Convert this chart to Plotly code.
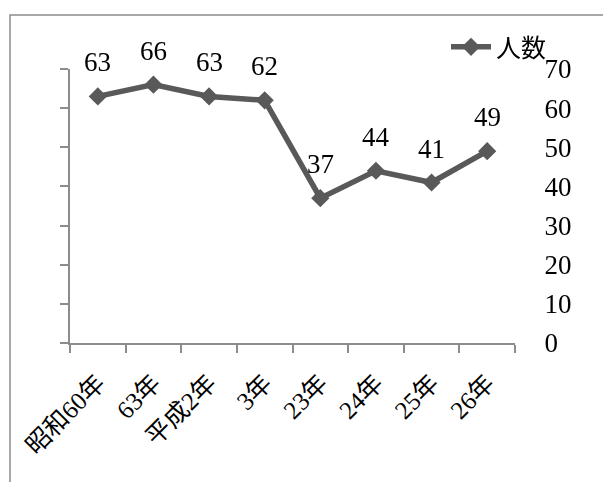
import plotly.graph_objects as go

categories = ["昭和60年", "63年", "平成2年", "3年", "23年", "24年", "25年", "26年"]
values = [63, 66, 63, 62, 37, 44, 41, 49]
series_name = "人数"
y_ticks = [0, 10, 20, 30, 40, 50, 60, 70]

FONT = "Liberation Serif, 'Noto Sans CJK JP', serif"
LINE_COLOR = "#595959"
AXIS_COLOR = "#8c8c8c"

fig = go.Figure()
fig.add_trace(go.Scatter(
    x=categories, y=values, name=series_name, mode="lines+markers",
    line=dict(color=LINE_COLOR, width=5.5),
    marker=dict(symbol="diamond", size=14, color=LINE_COLOR),
    hoverinfo="skip",
))
# invisible trace on the right axis so its labels are drawn
fig.add_trace(go.Scatter(
    x=categories, y=values, yaxis="y2", mode="markers", opacity=0,
    showlegend=False, hoverinfo="skip",
))

for c, v in zip(categories, values):
    fig.add_annotation(x=c, y=v, text=str(v), showarrow=False, yshift=34,
                       font=dict(family=FONT, size=27, color="black"))

fig.update_layout(
    width=603, height=482,
    margin=dict(l=70, r=88, t=69, b=139),
    paper_bgcolor="white", plot_bgcolor="white",
    font=dict(family=FONT, color="black"),
    showlegend=True,
    legend=dict(x=0.845, y=1.08, xanchor="left", yanchor="middle",
                bgcolor="rgba(0,0,0,0)", font=dict(size=25, family=FONT),
                itemwidth=40),
    xaxis=dict(
        type="category", range=[-0.5, 7.5], tickson="boundaries",
        ticks="outside", ticklen=8, tickcolor=AXIS_COLOR, tickwidth=1.5,
        showline=True, linecolor=AXIS_COLOR, linewidth=1.5,
        showgrid=False, zeroline=False, tickangle=-45,
        ticklabelstandoff=14,
        tickfont=dict(size=25, family=FONT, color="black"),
    ),
    yaxis=dict(
        range=[0, 70], tickvals=y_ticks, showticklabels=False,
        ticks="outside", ticklen=8, tickcolor=AXIS_COLOR, tickwidth=1.5,
        showline=True, linecolor=AXIS_COLOR, linewidth=1.5,
        showgrid=False, zeroline=False,
    ),
    yaxis2=dict(
        overlaying="y", side="right", anchor="x", range=[0, 70],
        tickvals=y_ticks, showline=False, showgrid=False, zeroline=False,
        ticks="outside", ticklen=23, tickcolor="rgba(0,0,0,0)",
        tickfont=dict(size=27, family=FONT, color="black"),
    ),
    shapes=[dict(type="rect", xref="paper", yref="paper",
                 x0=(10 - 70) / 445, x1=1.6, y0=-1.0, y1=(343 - 15) / 274,
                 line=dict(color=AXIS_COLOR, width=1.5), layer="below")],
)

fig.write_html("out.html")
